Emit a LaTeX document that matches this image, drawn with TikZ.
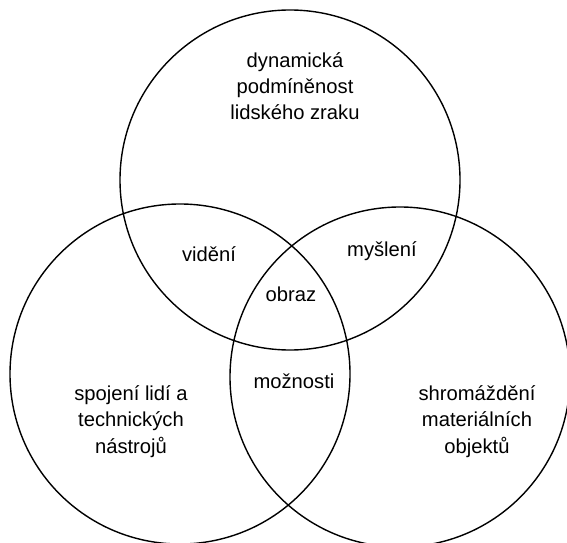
\documentclass[tikz,border=0pt]{standalone}
\usepackage{fontspec}
\setmainfont{Liberation Sans}
\begin{document}
\begin{tikzpicture}[x=1bp,y=-1bp,
  ring/.style={circle, draw=black, line width=1.4bp, minimum size=340bp, inner sep=0pt, outer sep=0pt},
  lbl/.style={font=\fontsize{20.2bp}{26.3bp}\selectfont, align=center, inner sep=0pt, anchor=base, text=black}]
\useasboundingbox (0,0) rectangle (567,543);
\clip (0,0) rectangle (567,543);
\node[ring] (ctop) at (290,180) {};
\node[ring] (cleft) at (180,374) {};
\node[ring] (cright) at (400,377) {};
\node[lbl] (ttop) at (295,120) {dynamická\\podmíněnost\\lidského zraku};
\node[lbl] (tleft) at (131,453) {spojení lidí a\\technických\\nástrojů};
\node[lbl] (tright) at (477,453) {shromáždění\\materiálních\\objektů};
\node[lbl] (tvid) at (209,261.5) {vidění};
\node[lbl] (tmys) at (382,256.5) {myšlení};
\node[lbl] (tobr) at (291,301) {obraz};
\node[lbl] (tmoz) at (294,388) {možnosti};
\end{tikzpicture}
\end{document}
